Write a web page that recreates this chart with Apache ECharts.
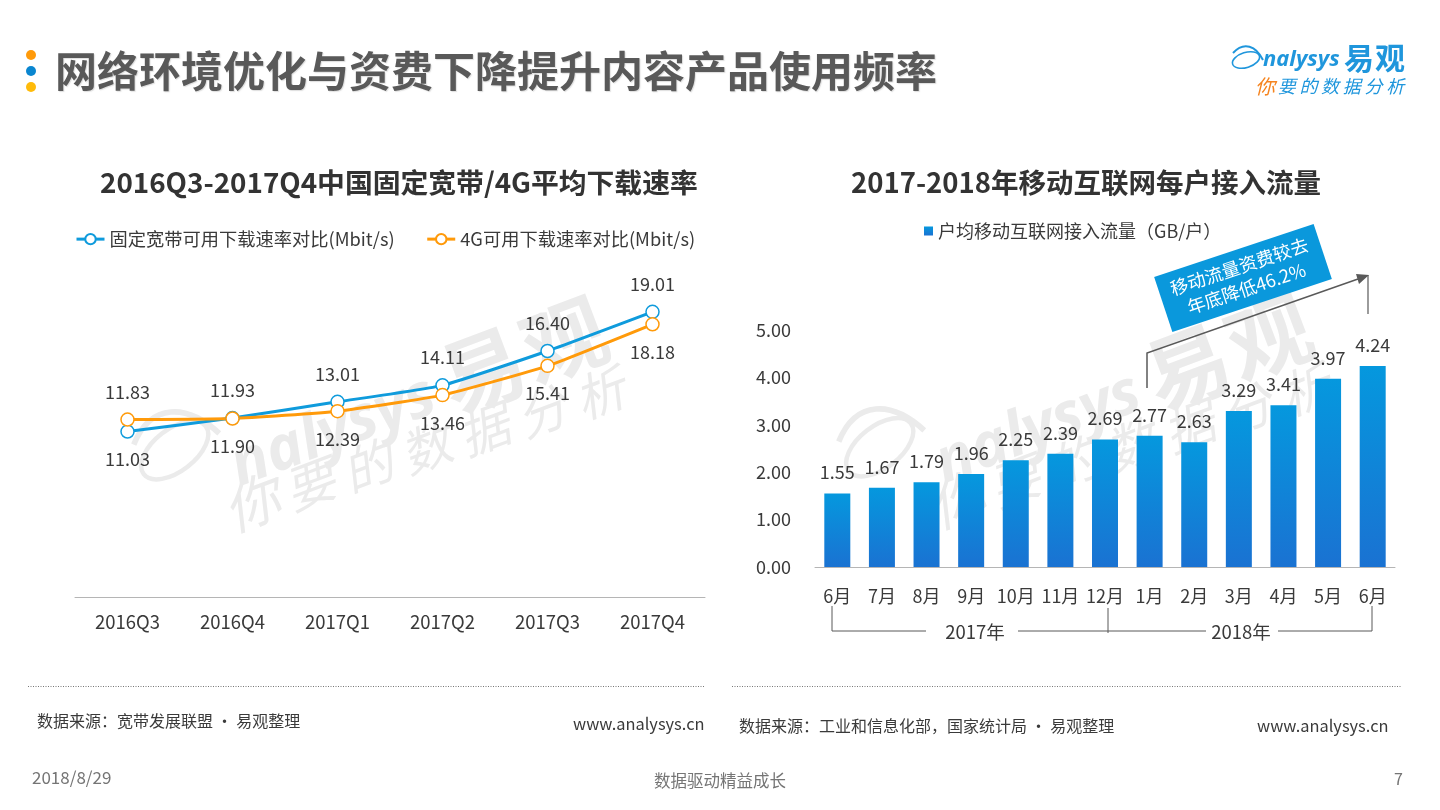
<!DOCTYPE html>
<html>
<head>
<meta charset="utf-8">
<title>网络环境优化与资费下降提升内容产品使用频率</title>
<script src="https://cdn.jsdelivr.net/npm/echarts@6/dist/echarts.min.js"></script>
<style>
html, body { margin: 0; padding: 0; background: #fff; }
#main { width: 1440px; height: 810px; }
</style>
</head>
<body>
<div id="main"></div>
<script>
// 左图：平均下载速率
const quarters = ['2016Q3', '2016Q4', '2017Q1', '2017Q2', '2017Q3', '2017Q4'];
const fixedSpeed = [11.03, 11.93, 13.01, 14.11, 16.40, 19.01];
const lteSpeed = [11.83, 11.90, 12.39, 13.46, 15.41, 18.18];
const fixedName = '固定宽带可用下载速率对比(Mbit/s)';
const lteName = '4G可用下载速率对比(Mbit/s)';
// 右图：户均流量
const months = ['6月', '7月', '8月', '9月', '10月', '11月', '12月', '1月', '2月', '3月', '4月', '5月', '6月'];
const traffic = [1.55, 1.67, 1.79, 1.96, 2.25, 2.39, 2.69, 2.77, 2.63, 3.29, 3.41, 3.97, 4.24];
const trafficName = '户均移动互联网接入流量（GB/户）';
const sloganChars = ['你', '要', '的', '数', '据', '分', '析'];

const FONT = '"Noto Sans CJK SC", "Noto Sans", sans-serif';
const BLUE = '#0f9bdc';
const ORANGE = '#ff9a0a';
const TEXT = '#3a3a3a';

function txt(text, x, y, size, color, extra) {
    return {
        type: 'text',
        style: Object.assign({
            text: text, x: x, y: y, fontSize: size, fill: color, fontFamily: FONT,
            verticalAlign: 'middle', align: 'left'
        }, extra || {})
    };
}

function line(x1, y1, x2, y2, color, width, dash) {
    return {
        type: 'line',
        shape: {x1: x1, y1: y1, x2: x2, y2: y2},
        style: {stroke: color, lineWidth: width || 1, lineDash: dash || null}
    };
}

// 易观 logo，水印和右上角共用；水印的字排得比右上角松一点，用 brandDy / sloganDrift 调
function logo(x, y, scale, rotation, main, accent, brandDy, sloganDrift) {
    const kids = [
        {type: 'ellipse', shape: {cx: 16, cy: 16, rx: 14, ry: 7.5}, rotation: 0.3, originX: 16, originY: 16,
            style: {fill: 'none', stroke: main, lineWidth: 1.6}},
        {type: 'bezierCurve', shape: {x1: 3, y1: 9, cpx1: 14, cpy1: -3, cpx2: 26, cpy2: 2, x2: 33, y2: 16},
            style: {fill: 'none', stroke: main, lineWidth: 2}},
        txt('nalysys', 33, 16 + brandDy, 22, main, {fontStyle: 'italic', fontFamily: '"Open Sans", sans-serif', fontWeight: 700}),
        txt('易', 114, 14 + brandDy, 30, main, {fontWeight: 700}),
        txt('观', 145, 14 + brandDy, 30, main, {fontWeight: 700})
    ];
    sloganChars.forEach(function (ch, i) {
        kids.push(txt(ch, i === 0 ? 25 : 26 + i * 21.7, 42 + sloganDrift * (i + 1), i === 0 ? 20 : 18,
            i === 0 ? accent : main, {fontStyle: 'italic'}));
    });
    return {type: 'group', x: x, y: y, scaleX: scale, scaleY: scale, rotation: rotation, silent: true, children: kids};
}

const myChart = echarts.init(document.getElementById('main'));

function fixedLabelPos(i) { return i === 0 ? 'bottom' : 'top'; }
function lteLabelPos(i) { return i === 0 ? 'top' : 'bottom'; }

function lineSeries(name, color, values, posOf) {
    return {
        name: name,
        type: 'line',
        xAxisIndex: 0,
        yAxisIndex: 0,
        smooth: 0.15,
        symbol: 'circle',
        symbolSize: 13,
        showAllSymbol: true,
        lineStyle: {color: color, width: 3},
        itemStyle: {color: '#fff', borderColor: color, borderWidth: 1.5},
        label: {
            show: true, fontSize: 18, color: TEXT, fontFamily: FONT, distance: 11.5,
            formatter: function (p) { return p.value.toFixed(2); }
        },
        data: values.map(function (v, i) {
            return {value: v, label: {position: posOf(i)}};
        })
    };
}

option = {
    animation: false,
    backgroundColor: '#fff',
    textStyle: {fontFamily: FONT},
    title: [
        {text: '网络环境优化与资费下降提升内容产品使用频率', left: 55, top: 50, padding: 0,
            textStyle: {fontSize: 42, fontWeight: 700, color: '#595959', fontFamily: FONT,
                textShadowColor: '#dedede', textShadowBlur: 1, textShadowOffsetX: 1, textShadowOffsetY: 1}},
        {text: '2016Q3-2017Q4中国固定宽带/4G平均下载速率', left: 100, top: 169, padding: 0,
            textStyle: {fontSize: 27.8, fontWeight: 700, color: '#333', fontFamily: FONT}},
        {text: '2017-2018年移动互联网每户接入流量', left: 851, top: 169, padding: 0,
            textStyle: {fontSize: 27.5, fontWeight: 700, color: '#333', fontFamily: FONT}}
    ],
    legend: [
        {data: [fixedName, lteName], left: 75, top: 230, padding: 0, itemWidth: 28, itemHeight: 13, itemGap: 31,
            lineStyle: {width: 3},
            textStyle: {fontSize: 18.25, color: TEXT, fontFamily: FONT, padding: [0, 0, 0, 0]}},
        {data: [trafficName], left: 924, top: 222, padding: 0, icon: 'rect', itemWidth: 9, itemHeight: 9, itemGap: 5,
            textStyle: {fontSize: 18, color: TEXT, fontFamily: FONT}}
    ],
    grid: [
        {left: 75, top: 222, width: 630, height: 375},
        {left: 815, top: 330, width: 580, height: 237}
    ],
    xAxis: [
        {type: 'category', gridIndex: 0, data: quarters,
            axisLine: {lineStyle: {color: '#b5b5b5'}}, axisTick: {show: false},
            axisLabel: {fontSize: 18.5, color: TEXT, margin: 16, fontFamily: FONT}},
        {type: 'category', gridIndex: 1, data: months,
            axisLine: {lineStyle: {color: '#b5b5b5'}}, axisTick: {show: false},
            axisLabel: {fontSize: 18, color: TEXT, margin: 20, interval: 0, fontFamily: FONT}}
    ],
    yAxis: [
        {type: 'value', gridIndex: 0, min: 0, max: 25, show: false, splitLine: {show: false}},
        {type: 'value', gridIndex: 1, min: 0, max: 5, interval: 1,
            axisLine: {show: false}, axisTick: {show: false}, splitLine: {show: false},
            axisLabel: {fontSize: 18, color: TEXT, margin: 24, fontFamily: FONT,
                formatter: function (v) { return v.toFixed(2); }}}
    ],
    series: [
        lineSeries(fixedName, BLUE, fixedSpeed, fixedLabelPos),
        lineSeries(lteName, ORANGE, lteSpeed, lteLabelPos),
        {
            name: trafficName,
            type: 'bar',
            xAxisIndex: 1,
            yAxisIndex: 1,
            barWidth: 26,
            itemStyle: {
                color: new echarts.graphic.LinearGradient(0, 0, 0, 1, [
                    {offset: 0, color: '#0598de'},
                    {offset: 1, color: '#1a72d2'}
                ])
            },
            label: {
                show: true, position: 'top', distance: 12, fontSize: 18, color: TEXT, fontFamily: FONT,
                formatter: function (p) { return p.value.toFixed(2); }
            },
            data: traffic
        }
    ],
    graphic: {
        elements: [
            // 水印
            logo(117, 424, 2.8, 0.36, '#ebebeb', '#ebebeb', 14, 1.2),
            logo(822, 421, 2.8, 0.36, '#ebebeb', '#ebebeb', 14, 1.2),
            // 右上角 logo
            logo(1230, 44, 1, 0, '#1f96dc', '#f5841f', 0, 0),
            // 标题前的三个点
            {type: 'circle', shape: {cx: 31, cy: 55, r: 5}, style: {fill: '#ff9a0a'}},
            {type: 'circle', shape: {cx: 31, cy: 71, r: 5}, style: {fill: '#0a86d0'}},
            {type: 'circle', shape: {cx: 31, cy: 87, r: 5}, style: {fill: '#ffbb0a'}},
            // 资费标注
            {
                type: 'group', x: 1243, y: 278, rotation: 0.32, z: 5,
                children: [
                    {type: 'rect', shape: {x: -84, y: -29, width: 168, height: 58}, style: {fill: '#0a98dc'}},
                    txt('移动流量资费较去', 0, -12, 18, '#fff', {align: 'center'}),
                    txt('年底降低46.2%', 0, 11, 18, '#fff', {align: 'center'})
                ]
            },
            {type: 'polyline', shape: {points: [[1147, 388], [1147, 353], [1358, 279]]}, style: {fill: 'none', stroke: '#595959', lineWidth: 1.5}},
            {type: 'polygon', shape: {points: [[1369, 275], [1356, 274], [1359, 284]]}, style: {fill: '#595959'}},
            line(1368, 275, 1368, 314, '#595959', 1.2),
            // 年份括号
            {type: 'polyline', shape: {points: [[832, 606], [832, 631], [926, 631]]}, style: {fill: 'none', stroke: '#595959', lineWidth: 1}},
            line(1018, 631, 1206, 631, '#595959', 1),
            line(1108, 608, 1108, 633, '#595959', 1),
            {type: 'polyline', shape: {points: [[1278, 631], [1372, 631], [1372, 606]]}, style: {fill: 'none', stroke: '#595959', lineWidth: 1}},
            txt('2017年', 975, 632, 18.5, TEXT, {align: 'center'}),
            txt('2018年', 1241, 632, 18.5, TEXT, {align: 'center'}),
            // 虚线与来源
            line(28, 686.5, 704, 686.5, '#777', 1, [1, 1.5]),
            line(732, 686.5, 1402, 686.5, '#777', 1, [1, 1.5]),
            txt('数据来源：宽带发展联盟 · 易观整理', 37, 721, 16, TEXT),
            txt('www.analysys.cn', 573, 724, 16.4, TEXT),
            txt('数据来源：工业和信息化部，国家统计局 · 易观整理', 739, 726, 16, TEXT),
            txt('www.analysys.cn', 1257, 726, 16.4, TEXT),
            // 页脚
            txt('2018/8/29', 32, 778, 17, '#757575'),
            txt('数据驱动精益成长', 720, 781, 16.5, '#757575', {align: 'center'}),
            txt('7', 1394, 779, 16, '#757575')
        ]
    }
};
myChart.setOption(option);
</script>
</body>
</html>
